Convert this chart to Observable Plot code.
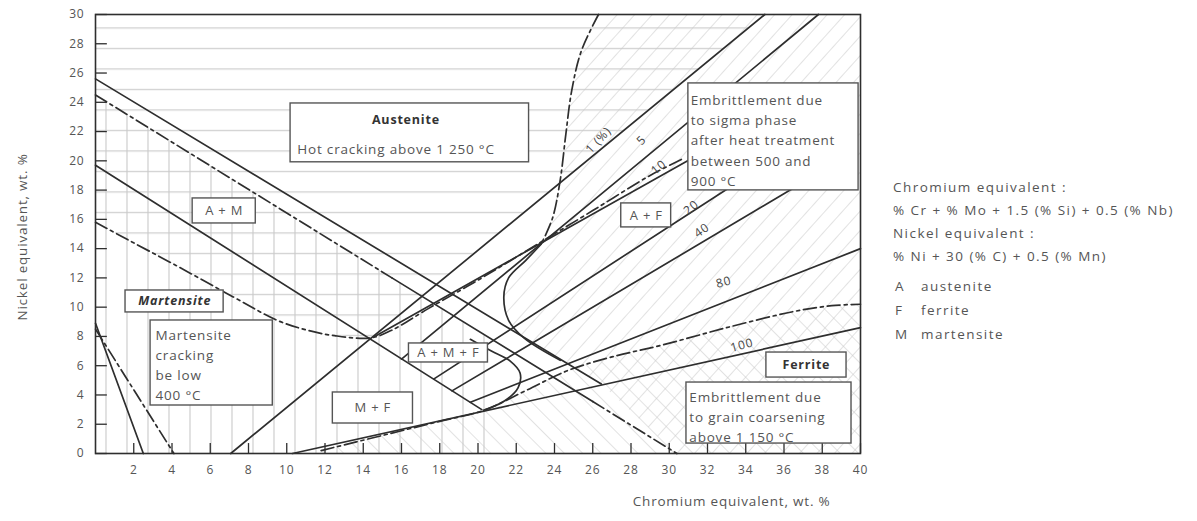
<!DOCTYPE html>
<html><head><meta charset="utf-8">
<script src="https://cdn.jsdelivr.net/npm/d3@7"></script>
<script src="https://cdn.jsdelivr.net/npm/@observablehq/plot@0.6"></script>
<style>
body{margin:0;background:#fff;}
#wrap{position:relative;width:1197px;height:521px;}
.lg{position:absolute;font-family:"Open Sans",sans-serif;font-size:13.5px;letter-spacing:1.45px;line-height:19px;color:#555;white-space:nowrap;}
</style></head><body><div id="wrap"></div><script>
// ---- axes ----
const crTicks = [2,4,6,8,10,12,14,16,18,20,22,24,26,28,30,32,34,36,38,40];
const niTicks = [0,2,4,6,8,10,12,14,16,18,20,22,24,26,28,30];
const xTitle = "Chromium equivalent, wt. %";
const yTitle = "Nickel equivalent, wt. %";

// ---- boundary lines [Cr eq, Ni eq] ----
const austeniteLine = [[0,25.6],[26.45,4.75]];
const martensiteLine = [[0,19.7],[20.2,3.0]];
const ferrite0 = [[7.07,0],[35,30]];
const ferrite5 = [[16,6.45],[37.8,30]];
const ferrite10 = [[14.6,8.0],[31.5,20.4]];
const ferrite20 = [[17.7,5.1],[34,18.9]];
const ferrite40 = [[18.64,4.28],[37.6,19.0]];
const ferrite80 = [[19.6,3.5],[40,14.0]];
const ferrite100 = [[10.3,0],[40,8.6]];
const lowLeftSolid = [[0,8.9],[2.5,0]];
const lowLeftDash = [[0,8.5],[4.1,0]];
const hotCrackDashA = [[0,24.5],[15.5,12.0]];
const hotCrackSolid = [[15.5,12.0],[26,3.55]];
const hotCrackDashB = [[26,3.55],[30.4,0]];
const sigmaCurveTop = [[26.3,30],[25.4,27.5],[24.9,24.8],[24.6,21.9],[24.3,18.7],[23.9,16.1],[23.3,14.3]];
const sigmaCurveC = [[23.3,14.3],[22.5,13.2],[21.6,12.0],[21.35,10.7],[21.6,9.1],[22.4,7.9],[24.3,6.37]];
const lowerC = [[19.6,7.8],[20.7,7.0],[21.7,6.3],[22.2,5.5],[22.1,4.5],[21.4,3.6],[20.3,2.95]];
const crackCurve = [[0,15.8],[1.7,14.6],[4,13.0],[7.2,10.7],[9.5,9.1],[11,8.45],[12.5,8.05],[14.4,7.9],[15.45,8.4],[17.4,9.9],[20.2,12.0],[23.1,14.3],[26,16.6],[29,19.0],[30.8,20.2]];
const grainCurve = [[11.8,0.2],[14.9,1.2],[18,2.2],[20.3,2.95],[22.5,4.3],[24.7,5.67],[27,6.6],[29.6,7.4],[33,8.6],[36.5,9.7],[38.5,10.1],[40,10.2]];
const martCrackTop = [[0,24.5],[20.5,7.98]];

// ---- annotation boxes (data units) ----
const boxes = [
  {x1:10.2,x2:22.67,y1:19.9,y2:23.92},
  {x1:31.0,x2:39.9,y1:17.98,y2:25.29},
  {x1:5.08,x2:8.38,y1:15.72,y2:17.43},
  {x1:27.49,x2:30.1,y1:15.45,y2:17.09},
  {x1:1.57,x2:6.7,y1:9.64,y2:11.14},
  {x1:2.88,x2:9.27,y1:3.28,y2:9.09},
  {x1:16.39,x2:20.52,y1:6.22,y2:7.52},
  {x1:12.41,x2:16.6,y1:2.05,y2:4.17},
  {x1:35.08,x2:39.27,y1:5.19,y2:6.9},
  {x1:30.9,x2:39.53,y1:0.68,y2:4.85}
];
const boldLabels = [
  {x:16.23,y:22.76,t:"Austenite"},
  {x:37.17,y:6.02,t:"Ferrite"}
];
const italicLabels = [
  {x:4.14,y:10.39,t:"Martensite"}
];
const centerLabels = [
  {x:6.73,y:16.58,t:"A + M"},
  {x:28.8,y:16.27,t:"A + F"},
  {x:18.45,y:6.87,t:"A + M + F"},
  {x:14.5,y:3.1,t:"M + F"}
];
const blockLabels = [
  {x:10.55,y:20.92,t:"Hot cracking above 1 250 °C"},
  {x:31.12,y:21.5,t:"Embrittlement due\nto sigma phase\nafter heat treatment\nbetween 500 and\n900 °C"},
  {x:3.14,y:6.15,t:"Martensite\ncracking\nbe low\n400 °C"},
  {x:31.05,y:2.58,t:"Embrittlement due\nto grain coarsening\nabove 1 150 °C"}
];
const lineLabels = [
  {x:26.3,y:21.4,t:"1 (%)",r:-47},
  {x:28.55,y:21.4,t:"5",r:-45},
  {x:29.45,y:19.55,t:"10",r:-40},
  {x:31.15,y:16.8,t:"20",r:-40},
  {x:31.7,y:15.25,t:"40",r:-35},
  {x:32.85,y:11.7,t:"80",r:-15},
  {x:33.8,y:7.4,t:"100",r:-15}
];
const legendLines = [
  "Chromium equivalent :",
  "% Cr + % Mo + 1.5 (% Si) + 0.5 (% Nb)",
  "Nickel equivalent :",
  "% Ni + 30 (% C) + 0.5 (% Mn)"
];
const legendKeys = [["A","austenite"],["F","ferrite"],["M","martensite"]];

// ---- drawing ----
const ink = "#2e2e2e";
const dash = "13,4,3,4";
const px = d => d[0], py = d => d[1];
const L = (data, o={}) => Plot.line(data, {x: px, y: py, stroke: ink, strokeWidth: 1.7, ...o});
const hEdge = crackCurve.slice(0,8).concat([ferrite0[1]]);
const fEdge = sigmaCurveTop.concat(sigmaCurveC.slice(1), [austeniteLine[1], hotCrackDashB[1]]);

const svg = Plot.plot({
  width: 1197, height: 521,
  marginLeft: 95, marginRight: 337, marginTop: 14, marginBottom: 68,
  style: {fontFamily: "Open Sans, sans-serif", fontSize: "12px", color: "#555", background: "white", letterSpacing: "0.8px"},
  x: {domain: [0,40], ticks: crTicks, tickSize: 0, tickPadding: 12, label: null},
  y: {domain: [0,30], ticks: niTicks, tickSize: 0, tickPadding: 11, label: null},
  marks: [
    Plot.areaY(hEdge, {x: px, y1: py, y2: d => 30, fill: "url(#hatchH)"}),
    Plot.areaY(martCrackTop, {x: px, y1: d => 0, y2: py, fill: "url(#hatchV)"}),
    Plot.areaX(fEdge, {y: py, x1: px, x2: d => 40, fill: "url(#hatchF)"}),
    Plot.areaY(grainCurve, {x: px, y1: d => 0, y2: py, fill: "url(#hatchB)"}),
    Plot.ruleY(niTicks, {x1: 0, x2: 0.62, stroke: ink, strokeWidth: 1.3}),
    Plot.ruleX(crTicks, {y1: 0, y2: 0.68, stroke: ink, strokeWidth: 1.3}),
    L(austeniteLine), L(martensiteLine),
    L(ferrite0), L(ferrite5), L(ferrite10), L(ferrite20), L(ferrite40), L(ferrite80), L(ferrite100),
    L(lowLeftSolid), L(lowLeftDash, {strokeDasharray: dash}),
    L(hotCrackDashA, {strokeDasharray: dash}), L(hotCrackSolid), L(hotCrackDashB, {strokeDasharray: dash}),
    L(sigmaCurveTop, {strokeDasharray: dash, curve: "catmull-rom"}),
    L(sigmaCurveC, {curve: "catmull-rom"}),
    L(lowerC, {curve: "catmull-rom"}),
    L(crackCurve, {strokeDasharray: dash, curve: "catmull-rom"}),
    L(grainCurve, {strokeDasharray: dash, curve: "catmull-rom"}),
    Plot.frame({stroke: ink, strokeWidth: 1.6}),
    Plot.rect(boxes, {x1: "x1", x2: "x2", y1: "y1", y2: "y2", fill: "white", stroke: "#555", strokeWidth: 1.4}),
    Plot.text(boldLabels, {x: "x", y: "y", text: "t", fontWeight: "bold", fill: "#333", fontSize: 12.5}),
    Plot.text(italicLabels, {x: "x", y: "y", text: "t", fontWeight: "bold", fontStyle: "italic", fill: "#333", fontSize: 12.5}),
    Plot.text(centerLabels, {x: "x", y: "y", text: "t", fill: "#555", fontSize: 13}),
    Plot.text(blockLabels, {x: "x", y: "y", text: "t", textAnchor: "start", lineAnchor: "middle", lineHeight: 1.5, fill: "#555", fontSize: 13.5}),
    Plot.text(lineLabels, {x: "x", y: "y", text: "t", rotate: "r", fill: "#444", fontSize: 12}),
    Plot.text([xTitle], {frameAnchor: "bottom-right", text: d => d, textAnchor: "end", dx: -30, dy: 52, fill: "#555", fontSize: 13.5}),
    Plot.text([yTitle], {frameAnchor: "left", text: d => d, textAnchor: "middle", rotate: -90, dx: -73, dy: 3, fill: "#555", fontSize: 13.5})
  ]
});

const s = d3.select(svg);
const defs = s.insert("defs", ":first-child");
const hatchColor = "#c9c9c9";
function pat(id, w, h, x1, y1, x2, y2, transform) {
  const p = defs.append("pattern").attr("id", id).attr("patternUnits", "userSpaceOnUse")
    .attr("width", w).attr("height", h);
  if (transform) p.attr("patternTransform", transform);
  p.append("line").attr("x1", x1).attr("y1", y1).attr("x2", x2).attr("y2", y2)
    .attr("stroke", hatchColor).attr("stroke-width", 1.1);
}
pat("hatchH", 20, 20.5, 0, 7.5, 20, 7.5);
pat("hatchV", 21, 20, 1, 0, 1, 20);
pat("hatchF", 13, 20, 0, 0, 0, 20, "rotate(42)");
pat("hatchB", 13, 20, 0, 0, 0, 20, "rotate(-45)");

const wrap = document.getElementById("wrap");
wrap.appendChild(svg);
const tops = [178, 201, 224, 247];
legendLines.forEach((t, i) => {
  const d = document.createElement("div");
  d.className = "lg"; d.textContent = t;
  d.style.left = "893px"; d.style.top = tops[i] + "px";
  wrap.appendChild(d);
});
const keyTops = [277, 301, 325];
legendKeys.forEach(([k, t], i) => {
  const a = document.createElement("div");
  a.className = "lg"; a.textContent = k; a.style.left = "895px"; a.style.top = keyTops[i] + "px";
  const b = document.createElement("div");
  b.className = "lg"; b.textContent = t; b.style.left = "921px"; b.style.top = keyTops[i] + "px";
  wrap.appendChild(a); wrap.appendChild(b);
});
</script></body></html>
